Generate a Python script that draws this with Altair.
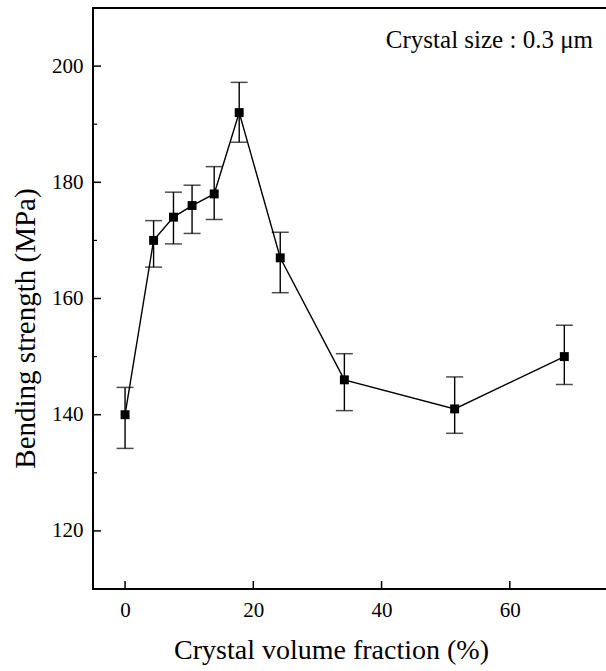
import altair as alt
import pandas as pd

# data
fraction = [0, 4.45, 7.55, 10.45, 13.9, 17.8, 24.2, 34.2, 51.4, 68.5]
strength = [140, 170, 174, 176, 178, 192, 167, 146, 141, 150]
err_high = [144.7, 173.4, 178.3, 179.5, 182.7, 197.2, 171.4, 150.5, 146.5, 155.4]
err_low = [134.2, 165.4, 169.4, 171.2, 173.6, 186.9, 161.0, 140.7, 136.8, 145.2]

x_ticks = [0, 20, 40, 60]
y_major = [120, 140, 160, 180, 200]
y_minor = [130, 150, 170, 190]

W, H = 513, 581
FONT = "Liberation Serif"

df = pd.DataFrame({"x": fraction, "y": strength, "hi": err_high, "lo": err_low})
xt = pd.DataFrame({"x": x_ticks})
ymaj = pd.DataFrame({"y": y_major})
ymin = pd.DataFrame({"y": y_minor})

xs = alt.Scale(domain=[-5, 75], nice=False, zero=False)
ys = alt.Scale(domain=[110, 210], nice=False, zero=False)

x_axis = alt.Axis(values=x_ticks, ticks=False, tickSize=0, domain=False, grid=False,
                  labelFont=FONT, labelFontSize=21, labelColor="black", labelPadding=10,
                  title="Crystal volume fraction (%)", titleFont=FONT, titleFontSize=28,
                  titleFontWeight="normal", titleColor="black", titleX=238, titleY=47)
y_axis = alt.Axis(values=y_major, ticks=False, tickSize=0, domain=False, grid=False,
                  labelFont=FONT, labelFontSize=21, labelColor="black", labelPadding=10,
                  title="Bending strength (MPa)", titleFont=FONT, titleFontSize=29,
                  titleFontWeight="normal", titleColor="black", titleX=-53, titleY=320)

base = alt.Chart(df)

line = base.mark_line(color="black", strokeWidth=1.4).encode(
    x=alt.X("x:Q", scale=xs, axis=x_axis),
    y=alt.Y("y:Q", scale=ys, axis=y_axis),
)
bars = base.mark_rule(color="black", strokeWidth=1.4).encode(
    x=alt.X("x:Q", scale=xs), y=alt.Y("lo:Q", scale=ys), y2="hi:Q"
)
cap_hi = base.mark_tick(color="black", orient="horizontal", size=17, thickness=1.5).encode(
    x=alt.X("x:Q", scale=xs), y=alt.Y("hi:Q", scale=ys)
)
cap_lo = base.mark_tick(color="black", orient="horizontal", size=17, thickness=1.5).encode(
    x=alt.X("x:Q", scale=xs), y=alt.Y("lo:Q", scale=ys)
)
pts = base.mark_point(shape="square", filled=True, color="black", size=80, opacity=1).encode(
    x=alt.X("x:Q", scale=xs), y=alt.Y("y:Q", scale=ys)
)

xtick_marks = alt.Chart(xt).mark_rule(color="black", strokeWidth=1.5).encode(
    x=alt.X("x:Q", scale=xs), y=alt.value(H), y2=alt.value(H - 8)
)
ymaj_marks = alt.Chart(ymaj).mark_rule(color="black", strokeWidth=1.5).encode(
    y=alt.Y("y:Q", scale=ys), x=alt.value(0), x2=alt.value(8)
)
ymin_marks = alt.Chart(ymin).mark_rule(color="black", strokeWidth=1.2).encode(
    y=alt.Y("y:Q", scale=ys), x=alt.value(0), x2=alt.value(4)
)

# frame: left, bottom, top (right side runs off the page as in the reference)
frame_left = alt.Chart(xt.head(1)).mark_rule(color="black", strokeWidth=2).encode(
    x=alt.value(0), y=alt.value(0), y2=alt.value(H)
)
frame_bottom = alt.Chart(xt.head(1)).mark_rule(color="black", strokeWidth=2).encode(
    x=alt.value(-1), x2=alt.value(W + 20), y=alt.value(H)
)
frame_top = alt.Chart(xt.head(1)).mark_rule(color="black", strokeWidth=2).encode(
    x=alt.value(-1), x2=alt.value(W + 20), y=alt.value(0)
)

label = alt.Chart(pd.DataFrame({"t": ["Crystal size : 0.3 \u03bcm"]})).mark_text(
    font=FONT, fontSize=25, color="black", align="right", baseline="middle"
).encode(x=alt.value(500), y=alt.value(32), text="t:N")

chart = alt.layer(line, bars, cap_hi, cap_lo, pts, xtick_marks, ymaj_marks, ymin_marks,
                  frame_left, frame_bottom, frame_top, label).properties(
    width=W, height=H,
    autosize=alt.AutoSizeParams(type="none"),
    padding={"left": 93, "top": 8, "right": 0, "bottom": 82},
    background="white",
).configure_view(stroke=None)

chart.save("out.html", embed_options={"renderer": "svg", "actions": False})
